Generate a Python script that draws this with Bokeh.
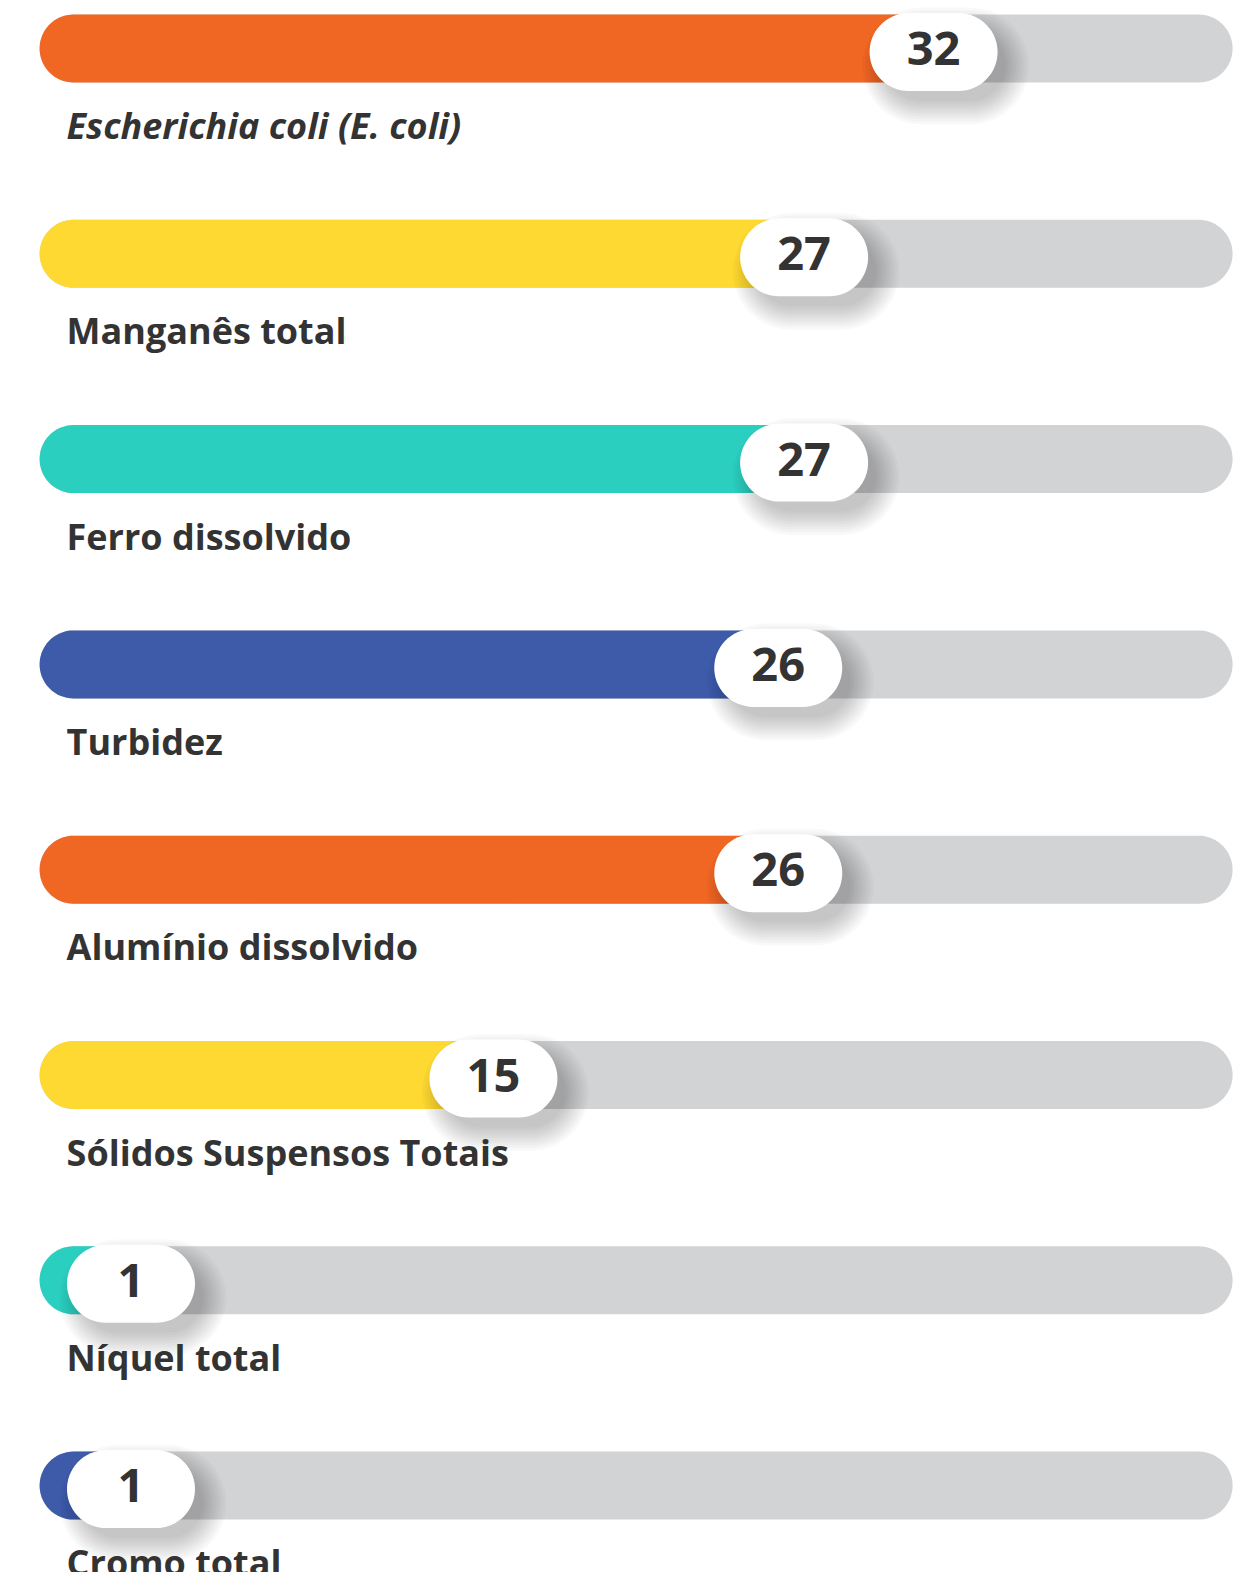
import numpy as np
from bokeh.plotting import figure
from bokeh.models import Range1d, ColumnDataSource
from bokeh.core.properties import value
from bokeh.embed import file_html
from bokeh.resources import INLINE

# ---------------- data ----------------
labels = ["Escherichia coli (E. coli)", "Manganês total", "Ferro dissolvido", "Turbidez",
          "Alumínio dissolvido", "Sólidos Suspensos Totais", "Níquel total", "Cromo total"]
values = [32, 27, 27, 26, 26, 15, 1, 1]
colors = ["#F06623", "#FED932", "#2ACFC0", "#3E5BA9",
          "#F06623", "#FED932", "#2ACFC0", "#3E5BA9"]
italic = [True, False, False, False, False, False, False, False]

# scale domain (track limits)
TRACK_START = -2.53
TRACK_END = 43.55

# ---------------- layout ----------------
W, H = 1235, 1572
X_MIN, X_MAX = -4.040, 43.662
ROW_PX = 205.3
FIRST_PX = 48.0
Y_TOP = -FIRST_PX / ROW_PX
Y_BOT = (H - FIRST_PX) / ROW_PX
PXX = (X_MAX - X_MIN) / W      # data units per pixel (x)
PYY = 1.0 / ROW_PX             # data units per pixel (y)

BAR_H = 68
PILL_W, PILL_H = 128, 78
PILL_DY = 3.5
FONT = "Open Sans"


def stadium(x0, x1, yc, h_px, dy_px=0.0, n=32):
    r = h_px / 2.0
    cl = x0 + r * PXX
    cr = x1 - r * PXX
    a_r = np.linspace(-np.pi / 2, np.pi / 2, n)
    a_l = np.linspace(np.pi / 2, 3 * np.pi / 2, n)
    xs = np.concatenate([cr + r * np.cos(a_r) * PXX, cl + r * np.cos(a_l) * PXX])
    ys = np.concatenate([yc + (dy_px + r * np.sin(a_r)) * PYY, yc + (dy_px + r * np.sin(a_l)) * PYY])
    return list(xs), list(ys)


rows = list(range(len(values)))

p = figure(width=W, height=H, output_backend="svg", toolbar_location=None,
           x_range=Range1d(X_MIN, X_MAX), y_range=Range1d(Y_BOT, Y_TOP),
           min_border=0, min_border_left=0, min_border_right=0,
           min_border_top=0, min_border_bottom=0)
p.axis.visible = False
p.grid.visible = False
p.outline_line_color = None
p.background_fill_color = "white"
p.border_fill_color = "white"

# tracks
txs, tys = [], []
for i in rows:
    xs, ys = stadium(TRACK_START, TRACK_END, i, BAR_H)
    txs.append(xs); tys.append(ys)
p.patches(txs, tys, fill_color="#D2D3D5", line_color=None)

# coloured bars
bxs, bys = [], []
for i, v in zip(rows, values):
    xs, ys = stadium(TRACK_START, v, i, BAR_H)
    bxs.append(xs); bys.append(ys)
p.patches(bxs, bys, fill_color=colors, line_color=None)

# soft shadows under pills
for k in range(10):
    grow = 2.6 * k
    sxs, sys_ = [], []
    for i, v in zip(rows, values):
        cx = v + 12 * PXX
        half = (PILL_W / 2 - 4 + grow) * PXX
        xs, ys = stadium(cx - half, cx + half, i, PILL_H - 8 + 2 * grow, dy_px=PILL_DY + 14)
        sxs.append(xs); sys_.append(ys)
    p.patches(sxs, sys_, fill_color="#000000", fill_alpha=0.022, line_color=None)

# white pills
pxs, pys = [], []
for i, v in zip(rows, values):
    half = (PILL_W / 2) * PXX
    xs, ys = stadium(v - half, v + half, i, PILL_H, dy_px=PILL_DY)
    pxs.append(xs); pys.append(ys)
p.patches(pxs, pys, fill_color="white", line_color=None)

# value numbers
src = ColumnDataSource(dict(x=values, y=rows, t=[str(v) for v in values]))
p.text(x="x", y="y", text="t", source=src, text_align="center", text_baseline="alphabetic",
       y_offset=0, text_font=value(FONT), text_font_style="bold",
       text_font_size="47px", text_color="#333333")

# category labels
it_rows = [i for i in rows if italic[i]]
nt_rows = [i for i in rows if not italic[i]]
for sel, style in ((it_rows, "bold italic"), (nt_rows, "bold")):
    s = ColumnDataSource(dict(x=[TRACK_START] * len(sel), y=sel, t=[labels[i] for i in sel]))
    p.text(x="x", y="y", text="t", source=s, text_align="left", text_baseline="alphabetic",
           x_offset=27, y_offset=77, text_font=value(FONT), text_font_style=style,
           text_font_size="36px", text_color="#333333")

open("out.html", "w").write(file_html(p, INLINE))
